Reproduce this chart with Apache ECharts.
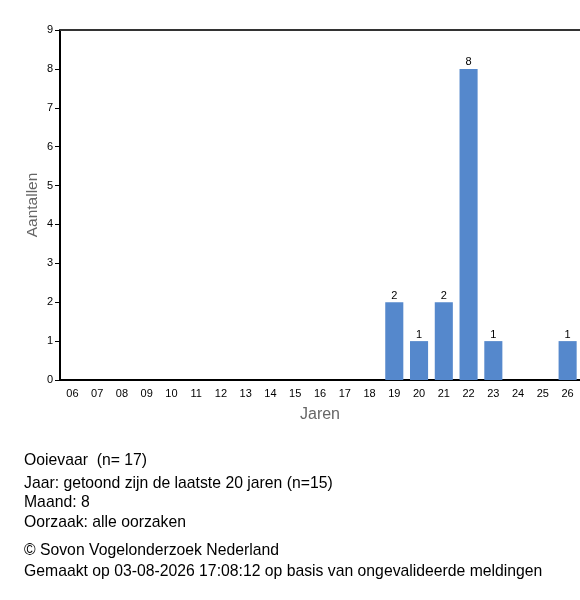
<!DOCTYPE html>
<html>
<head>
<meta charset="utf-8">
<script src="https://cdn.jsdelivr.net/npm/echarts@6/dist/echarts.min.js"></script>
<style>html,body{margin:0;padding:0;background:#fff}#c{width:580px;height:600px}</style>
</head>
<body>
<div id="c"></div>
<script>
var years = ['06','07','08','09','10','11','12','13','14','15','16','17','18','19','20','21','22','23','24','25','26'];
var counts = [0,0,0,0,0,0,0,0,0,0,0,0,0,2,1,2,8,1,0,0,1];
var yTicks = [0,1,2,3,4,5,6,7,8,9];
var infoLines = ['Ooievaar  (n= 17)','Jaar: getoond zijn de laatste 20 jaren (n=15)','Maand: 8','Oorzaak: alle oorzaken'];
var footerLines = ['© Sovon Vogelonderzoek Nederland','Gemaakt op 03-08-2026 17:08:12 op basis van ongevalideerde meldingen'];

var chart = echarts.init(document.getElementById('c'), null, {renderer:'canvas'});
var font = 'Arial, "Liberation Sans", sans-serif';
var infoY = [461, 484, 503, 523];
var footY = [551, 572];
var graphics = [];
infoLines.forEach(function(t,i){
  graphics.push({type:'text', x:24, y:infoY[i], style:{text:t, font:'15.75px '+font, fill:'#000', textVerticalAlign:'middle', verticalAlign:'middle'}});
});
footerLines.forEach(function(t,i){
  graphics.push({type:'text', x:24, y:footY[i], style:{text:t, font:'15.75px '+font, fill:'#000', textVerticalAlign:'middle', verticalAlign:'middle'}});
});
chart.setOption({
  animation:false,
  textStyle:{fontFamily:font},
  grid:{left:60, right:0, top:30, bottom:220},
  xAxis:[{
    type:'category', data:years, boundaryGap:true,
    name:'Jaren', nameLocation:'middle', nameGap:27,
    nameTextStyle:{fontSize:16, color:'#666', fontFamily:font},
    axisLine:{lineStyle:{color:'#000', width:2}},
    axisTick:{alignWithLabel:true, length:5, lineStyle:{color:'#000'}},
    axisLabel:{fontSize:11, color:'#000', margin:8}
  },{
    type:'category', data:years, position:'top',
    axisLine:{lineStyle:{color:'#333', width:2}},
    axisTick:{show:false}, axisLabel:{show:false}
  }],
  yAxis:{
    type:'value', min:yTicks[0], max:yTicks[yTicks.length-1], interval:1,
    name:'Aantallen', nameLocation:'middle', nameGap:19, nameMoveOverlap:false,
    nameTextStyle:{fontSize:15.5, color:'#666', fontFamily:font},
    axisLine:{show:true, lineStyle:{color:'#000', width:2}},
    axisTick:{show:true, length:5, lineStyle:{color:'#000'}},
    axisLabel:{fontSize:11, color:'#000', margin:7},
    splitLine:{show:false}
  },
  series:[{
    type:'bar', data:counts, barCategoryGap:'27%',
    itemStyle:{color:'#5588cc'},
    label:{show:true, position:'top', fontSize:11, color:'#000', distance:1,
      formatter:function(p){return p.value>0?p.value:'';}}
  }],
  graphic:graphics
});
</script>
</body>
</html>
